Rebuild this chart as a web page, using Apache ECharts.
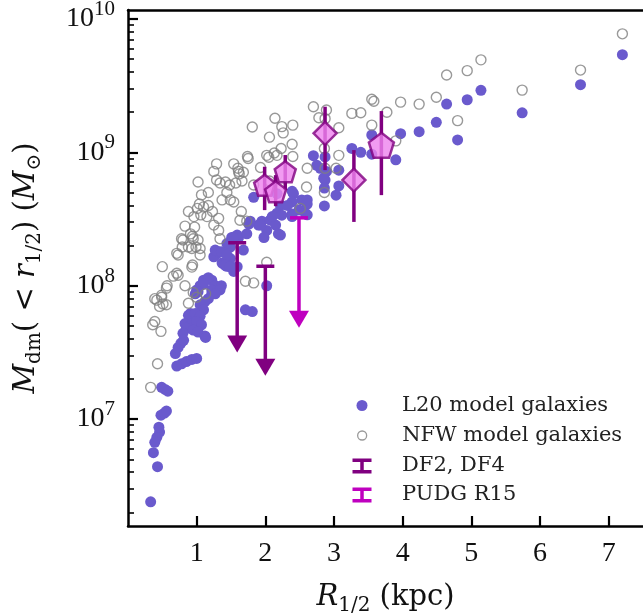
<!DOCTYPE html>
<html><head><meta charset="utf-8">
<script src="https://cdn.jsdelivr.net/npm/echarts@6/dist/echarts.min.js"></script>
<style>html,body{margin:0;padding:0;background:#fff}#c{width:643px;height:613px}</style>
</head><body><div id="c"></div>
<script>
// ---------- data ----------
const l20 = [[7.20,5.4e9],[6.59,3.22e9],[5.74,1.98e9],[5.14,2.92e9],[4.94,2.48e9],[4.64,2.3e9],[4.80,1.24e9],[4.49,1.68e9],[4.24,1.43e9],[3.97,1.38e9],[3.90,8.8e8],[3.55,1.35e9],[3.55,9.7e8],[3.26,1.07e9],[3.39,1.0e9],[3.07,7.36e8],[3.07,5.6e8],[3.03,4.78e8],[2.87,6.2e8],[2.86,3.97e8],[2.87,9.25e8],[2.70,9.45e8],[2.80,7.6e8],[2.75,8.0e8],[2.89,7.2e8],[2.85,6.4e8],[2.86,5.4e8],[2.39,5.1e8],[2.53,4.4e8],[2.61,4.4e8],[2.22,4.0e8],[2.17,3.5e8],[1.95,3.05e8],[2.07,3.1e8],[2.15,2.85e8],[1.90,2.85e8],[2.02,2.6e8],[2.19,2.45e8],[1.76,2.9e8],[1.61,2.3e8],[1.51,2.3e8],[2.41,4.9e8],[2.61,4.1e8],[2.39,3.45e8],[2.24,3.38e8],[2.49,3.7e8],[2.61,3.4e8],[2.39,4.25e8],[2.10,3.3e8],[1.78,3.05e8],[1.93,2.85e8],[1.98,2.3e8],[2.22,2.4e8],[1.59,2.4e8],[1.73,2.45e8],[1.49,1.95e8],[1.68,1.85e8],[1.44,2.07e8],[1.29,1.73e8],[1.25,1.65e8],[1.49,1.6e8],[1.37,1.48e8],[1.59,1.39e8],[1.32,1.8e8],[1.44,1.4e8],[1.54,1.28e8],[1.42,1.48e8],[1.27,1.85e8],[1.36,1.8e8],[1.44,1.7e8],[1.41,1.43e8],[1.48,1.39e8],[1.53,2.3e8],[2.02,1.0e8],[1.71,6.6e7],[1.81,6.4e7],[1.22,1.1e8],[1.10,1.1e8],[1.05,1.0e8],[1.0,9.3e7],[1.17,1.15e8],[1.10,1.03e8],[1.27,1.0e8],[1.36,1.0e8],[1.02,9.0e7],[1.22,8.7e7],[0.98,8.7e7],[1.22,9.3e7],[0.91,6.2e7],[1.34,9.3e7],[1.27,8.7e7],[1.17,8.0e7],[1.12,7.6e7],[1.05,7.2e7],[1.10,6.6e7],[0.88,6.0e7],[0.98,6.2e7],[1.05,5.9e7],[0.83,5.2e7],[0.93,5.2e7],[1.0,5.4e7],[1.07,5.1e7],[0.85,4.8e7],[0.95,4.65e7],[1.02,4.5e7],[1.12,4.2e7],[0.80,4.4e7],[1.13,4.1e7],[0.69,3.1e7],[0.73,3.45e7],[0.77,3.7e7],[0.81,3.9e7],[0.71,2.5e7],[0.78,2.6e7],[0.85,2.7e7],[0.93,2.8e7],[1.0,2.85e7],[0.49,1.73e7],[0.54,1.67e7],[0.58,1.62e7],[0.48,1.07e7],[0.53,1.11e7],[0.56,1.15e7],[0.39,6.7e6],[0.42,7.3e6],[0.46,8.0e6],[0.45,8.7e6],[0.37,5.6e6],[0.43,4.4e6],[0.33,2.4e6],[2.17,4.9e8],[1.83,4.6e8],[2.32,4.0e8],[2.39,3.3e8],[2.58,3.5e8]];

const nfw = [[7.20,7.74e9],[6.59,4.14e9],[5.74,2.93e9],[5.14,4.94e9],[4.94,4.1e9],[4.64,3.8e9],[4.80,1.73e9],[4.49,2.59e9],[4.24,2.3e9],[3.97,2.38e9],[3.77,2.0e9],[3.90,1.22e9],[3.55,2.5e9],[3.58,2.42e9],[3.55,1.6e9],[3.26,1.96e9],[3.39,1.98e9],[3.07,1.53e9],[3.07,9.5e8],[3.03,7.6e8],[2.86,5.0e8],[2.89,2.08e9],[2.87,1.79e9],[2.86,1.07e9],[2.70,2.2e9],[2.78,1.82e9],[2.14,1.8e9],[1.81,1.55e9],[2.40,1.6e9],[2.06,1.3e9],[2.26,1.4e9],[2.39,1.15e9],[2.23,1.07e9],[1.74,9.3e8],[2.02,9.5e8],[2.13,9.9e8],[2.17,9.5e8],[2.40,9.3e8],[1.29,8.2e8],[1.54,8.2e8],[1.60,7.6e8],[1.62,6.9e8],[1.25,7.2e8],[1.02,6.0e8],[1.07,4.8e8],[1.34,5.9e8],[1.42,6.0e8],[1.57,5.9e8],[1.66,6.1e8],[1.83,5.7e8],[1.93,7.7e8],[2.61,7.6e8],[2.60,5.5e8],[2.87,7.6e8],[1.04,4.1e8],[1.01,3.8e8],[1.10,3.9e8],[1.17,4.0e8],[1.06,3.4e8],[0.96,3.3e8],[1.15,3.3e8],[1.23,3.6e8],[1.32,3.2e8],[1.25,2.85e8],[1.32,2.6e8],[1.34,2.25e8],[0.97,2.75e8],[0.91,2.45e8],[0.80,2.2e8],[0.94,2.35e8],[1.02,2.2e8],[1.05,1.9e8],[0.99,1.95e8],[1.05,1.7e8],[0.93,1.9e8],[0.79,1.95e8],[0.71,1.75e8],[0.94,1.43e8],[0.73,1.2e8],[0.50,1.39e8],[0.66,1.18e8],[0.57,1.0e8],[1.37,4.4e8],[1.54,4.25e8],[1.65,3.6e8],[1.73,3.05e8],[1.63,3.1e8],[1.68,7.1e8],[2.06,6.1e8],[2.02,1.5e8],[1.83,1.05e8],[1.71,1.08e8],[0.42,7.8e7],[0.49,8.2e7],[0.56,7.2e7],[0.46,7.0e7],[0.51,7.3e7],[0.39,5.4e7],[0.36,5.1e7],[0.48,4.55e7],[0.43,2.6e7],[0.33,1.73e7],[0.88,7.4e7],[1.0,8.2e7],[1.13,8.7e7],[0.95,8.9e7],[1.29,6.2e8],[1.17,5.0e8],[1.44,5.0e8],[1.49,4.4e8],[0.88,3.6e8],[0.83,2.8e8],[0.78,2.25e8],[0.95,2.25e8],[0.88,1.95e8],[0.73,1.7e8],[0.71,1.24e8],[0.93,1.38e8],[0.56,9.6e7],[0.83,1.0e8],[0.39,8.0e7],[0.49,8.5e7],[1.48,5.7e8],[1.75,9.0e8],[1.61,7.2e8],[2.05,9.2e8],[2.24,1.56e9],[2.51,3.8e8]];

// DF2, DF4 upper limits: [R, lower (arrow), upper (cap)]
const dfLimits = [[1.59, 3.65e7, 2.1e8], [2.0, 2.45e7, 1.4e8]];
// PUDG R15 upper limit
const pudgLimits = [[2.49, 5.6e7, 3.23e8]];
// pentagon estimates: R, M, low, high
const pentR = [1.99, 2.15, 2.29, 3.69];
const pentM = [5.68e8, 5.06e8, 7.16e8, 1.13e9];
const pentLow = [3.69e8, 3.95e8, 5.21e8, 4.78e8];
const pentHigh = [7.8e8, 6.75e8, 9.55e8, 2.04e9];
// diamond estimates
const diaR = [2.87, 3.29];
const diaM = [1.39e9, 6.2e8];
const diaLow = [7.36e8, 3.01e8];
const diaHigh = [2.2e9, 1.04e9];

const xTicks = [1, 2, 3, 4, 5, 6, 7];
const yMajor = [1e7, 1e8, 1e9, 1e10];
const yMinor = [2e6,3e6,4e6,5e6,6e6,7e6,8e6,9e6,2e7,3e7,4e7,5e7,6e7,7e7,8e7,9e7,2e8,3e8,4e8,5e8,6e8,7e8,8e8,9e8,2e9,3e9,4e9,5e9,6e9,7e9,8e9,9e9];

const NUMFONT = 'Liberation Serif';
const TXTFONT = 'DejaVu Serif';
const PURPLE = '#800080', MAGENTA = '#bf00bf', VIOLET = '#ee82ee', BLUE = '#6a5acd', GRAY = '#808080';
const Y_MIN = 1.58e6, Y_MAX = 1.168e10;

function limitItem(params, api) {
  const x = api.value(0), lo = api.value(1), hi = api.value(2);
  const pHi = api.coord([x, hi]), pLo = api.coord([x, lo]);
  const color = api.visual('color');
  const lw = 3.5, cap = 9, aw = 10, ah = 17;
  return { type: 'group', children: [
    { type: 'line', shape: { x1: pHi[0], y1: pHi[1], x2: pLo[0], y2: pLo[1] }, style: { stroke: color, lineWidth: lw } },
    { type: 'line', shape: { x1: pHi[0] - cap, y1: pHi[1], x2: pHi[0] + cap, y2: pHi[1] }, style: { stroke: color, lineWidth: lw } },
    { type: 'polygon', shape: { points: [[pLo[0] - aw, pLo[1] - ah / 2], [pLo[0] + aw, pLo[1] - ah / 2], [pLo[0], pLo[1] + ah / 2]] }, style: { fill: color } }
  ]};
}
function barItem(params, api) {
  const x = api.value(0), lo = api.value(1), hi = api.value(2);
  const pHi = api.coord([x, hi]), pLo = api.coord([x, lo]);
  return { type: 'line', shape: { x1: pHi[0], y1: pHi[1], x2: pLo[0], y2: pLo[1] }, style: { stroke: PURPLE, lineWidth: 3.5 } };
}

const errBars = pentR.map((r, i) => [r, pentLow[i], pentHigh[i]]).concat(diaR.map((r, i) => [r, diaLow[i], diaHigh[i]]));
const pentData = pentR.map((r, i) => [r, pentM[i]]);
const diaData = diaR.map((r, i) => [r, diaM[i]]);

const PENT = 'path://M0,-1 L0.951,-0.309 L0.588,0.809 L-0.588,0.809 L-0.951,-0.309 Z';
const IBAR = 'path://M0,0H19V3.5H11.25V11.5H19V15H0V11.5H7.75V3.5H0Z';

const legendBase = { orient: 'vertical', padding: 0, itemWidth: 70, selectedMode: false,
  textStyle: { fontFamily: TXTFONT, fontSize: 21, color: '#222' } };

const titleRich = {
  i: { fontFamily: TXTFONT, fontSize: 29, fontStyle: 'italic', lineHeight: 38, color: '#111' },
  s: { fontFamily: TXTFONT, fontSize: 20, lineHeight: 20, verticalAlign: 'bottom', color: '#111' },
  n: { fontFamily: TXTFONT, fontSize: 29, lineHeight: 38, color: '#111' }
};

const chart = echarts.init(document.getElementById('c'), null, { renderer: 'canvas' });
chart.setOption({
  animation: false,
  backgroundColor: '#fff',
  grid: { left: 128, right: 0, top: 10, bottom: 87, containLabel: false, outerBoundsMode: 'none' },
  xAxis: [{
    type: 'value', min: 0, max: 7.5,
    axisLine: { lineStyle: { color: '#000', width: 2.5 } },
    axisTick: { inside: true, length: 10, customValues: xTicks, lineStyle: { color: '#000', width: 2.2 } },
    axisLabel: { customValues: xTicks, fontFamily: NUMFONT, fontSize: 28, color: '#111', margin: 14 },
    splitLine: { show: false },
    name: '{i|R}{s|1/2}{n| (kpc)}', nameLocation: 'middle', nameGap: 52,
    nameTextStyle: { fontFamily: TXTFONT, fontSize: 29, color: '#111', rich: titleRich }
  }, {
    type: 'value', min: 0, max: 7.5, position: 'top',
    axisLine: { lineStyle: { color: '#000', width: 2.5 } },
    axisTick: { show: false }, axisLabel: { show: false }, splitLine: { show: false }
  }],
  yAxis: [{
    type: 'log', min: Y_MIN, max: Y_MAX,
    axisLine: { lineStyle: { color: '#000', width: 2.5 } },
    axisTick: { inside: true, length: 10, customValues: yMajor, lineStyle: { color: '#000', width: 2.2 } },
    axisLabel: { customValues: yMajor, margin: 13,
      formatter: v => '{b|10}{p|' + Math.round(Math.log10(v)) + '}',
      rich: { b: { fontFamily: NUMFONT, fontSize: 28, color: '#111', lineHeight: 40 },
              p: { fontFamily: NUMFONT, fontSize: 21, color: '#111', lineHeight: 18, verticalAlign: 'top' } } },
    splitLine: { show: false },
    name: '{i|M}{s|dm}{n|( < }{i|r}{s|1/2}{n|) (}{i|M}{s|⊙}{n|)}', nameLocation: 'middle', nameGap: 83, nameRotate: 90,
    nameTextStyle: { fontFamily: TXTFONT, fontSize: 29, color: '#111', rich: titleRich }
  }, {
    type: 'log', min: Y_MIN, max: Y_MAX, position: 'left',
    axisLine: { show: false },
    axisTick: { inside: true, length: 6, customValues: yMinor, lineStyle: { color: '#000', width: 1.6 } },
    axisLabel: { show: false }, splitLine: { show: false }
  }],
  legend: [
    Object.assign({}, legendBase, { left: 356.5, top: 395, itemHeight: 11, data: [{ name: 'L20 model galaxies', icon: 'circle' }] }),
    Object.assign({}, legendBase, { left: 357, top: 425, itemHeight: 9, data: [{ name: 'NFW model galaxies', icon: 'circle', itemStyle: { color: '#fff', borderColor: GRAY, borderWidth: 1.3 } }] }),
    Object.assign({}, legendBase, { left: 352.5, top: 455.5, itemHeight: 15, data: [{ name: 'DF2, DF4', icon: IBAR }] }),
    Object.assign({}, legendBase, { left: 352.5, top: 484.5, itemHeight: 15, data: [{ name: 'PUDG R15', icon: IBAR }] })
  ],
  series: [
    { name: 'L20 model galaxies', type: 'scatter', data: l20, symbol: 'circle', symbolSize: 11,
      itemStyle: { color: BLUE, opacity: 1 }, z: 2 },
    { name: 'NFW model galaxies', type: 'scatter', data: nfw, symbol: 'circle', symbolSize: 10,
      itemStyle: { color: 'rgba(0,0,0,0)', borderColor: GRAY, borderWidth: 1.4 }, z: 3 },
    { name: 'DF2, DF4', type: 'custom', renderItem: limitItem, data: dfLimits, itemStyle: { color: PURPLE }, z: 5,
      encode: { x: 0, y: [1, 2] } },
    { name: 'PUDG R15', type: 'custom', renderItem: limitItem, data: pudgLimits, itemStyle: { color: MAGENTA }, z: 5,
      encode: { x: 0, y: [1, 2] } },
    { name: 'estimate bars', type: 'custom', renderItem: barItem, data: errBars, itemStyle: { color: PURPLE }, z: 6,
      encode: { x: 0, y: [1, 2] } },
    { name: 'pentagons', type: 'scatter', data: pentData, symbol: PENT,
      symbolSize: (v, p) => (p.dataIndex === 3 ? 25 : 21),
      itemStyle: { color: VIOLET, borderColor: PURPLE, borderWidth: 2.5 }, z: 7 },
    { name: 'diamonds', type: 'scatter', data: diaData, symbol: 'diamond', symbolSize: 23,
      itemStyle: { color: VIOLET, borderColor: PURPLE, borderWidth: 2.5 }, z: 7 }
  ]
});
</script></body></html>
